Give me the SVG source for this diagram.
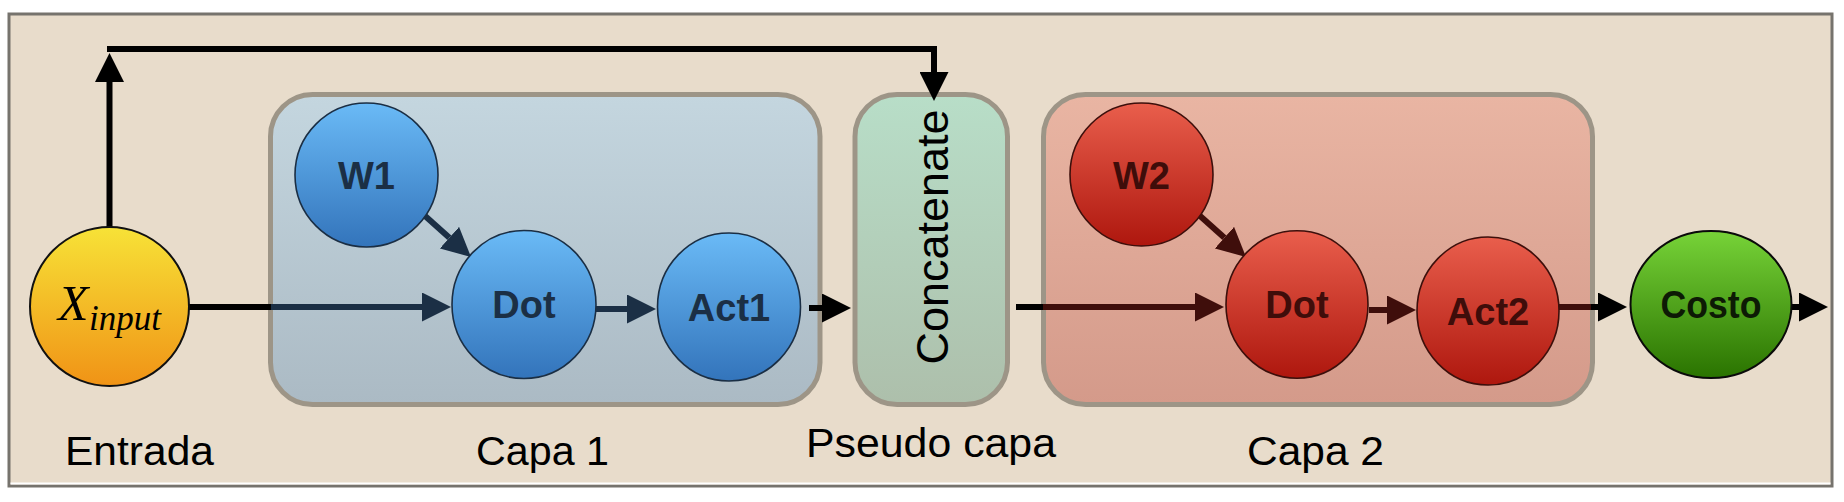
<svg xmlns="http://www.w3.org/2000/svg" width="1844" height="502" viewBox="0 0 1844 502">
<style>
.lbl{font-family:"Liberation Sans",Arial,sans-serif;font-size:41px;fill:#000}
.nt{font-family:"Liberation Sans",Arial,sans-serif;font-size:38px;font-weight:bold;text-anchor:middle}
.box{stroke:#9d9587;stroke-width:5}
.c{fill:none;stroke-width:6;stroke-linejoin:miter}
.k{stroke:#000}
.nv{stroke:#1b2f45}
.rd{stroke:#3f0e0b}
.bl{stroke:#1a2e44;stroke-width:1.6}
.rc{stroke:#3d0f0b;stroke-width:1.6}
</style>
<defs>
<linearGradient id="gY" x1="0" y1="0" x2="0" y2="1"><stop offset="0" stop-color="#f7e237"/><stop offset="1" stop-color="#f09316"/></linearGradient>
<linearGradient id="gB" x1="0" y1="0" x2="0" y2="1"><stop offset="0" stop-color="#6abaf6"/><stop offset="1" stop-color="#3374bb"/></linearGradient>
<linearGradient id="gR" x1="0" y1="0" x2="0" y2="1"><stop offset="0" stop-color="#e95e4c"/><stop offset="1" stop-color="#ae170e"/></linearGradient>
<linearGradient id="gG" x1="0" y1="0" x2="0" y2="1"><stop offset="0" stop-color="#77d338"/><stop offset="1" stop-color="#2a7300"/></linearGradient>
<linearGradient id="gL1" x1="0" y1="0" x2="0" y2="1"><stop offset="0" stop-color="#c4d6df"/><stop offset="1" stop-color="#abbac4"/></linearGradient>
<linearGradient id="gLC" x1="0" y1="0" x2="0" y2="1"><stop offset="0" stop-color="#b8dec8"/><stop offset="1" stop-color="#adbfab"/></linearGradient>
<linearGradient id="gL2" x1="0" y1="0" x2="0" y2="1"><stop offset="0" stop-color="#e9b5a3"/><stop offset="1" stop-color="#d49a8a"/></linearGradient>
<marker id="ak" viewBox="0 0 29 29" refX="0" refY="14.5" markerWidth="29" markerHeight="29" markerUnits="userSpaceOnUse" orient="auto"><path d="M0,0 L29,14.5 L0,29 z" fill="#000"/></marker>
<marker id="an" viewBox="0 0 29 29" refX="0" refY="14.5" markerWidth="29" markerHeight="29" markerUnits="userSpaceOnUse" orient="auto"><path d="M0,0 L29,14.5 L0,29 z" fill="#1b2f45"/></marker>
<marker id="ar" viewBox="0 0 29 29" refX="0" refY="14.5" markerWidth="29" markerHeight="29" markerUnits="userSpaceOnUse" orient="auto"><path d="M0,0 L29,14.5 L0,29 z" fill="#3f0e0b"/></marker>
</defs>
<rect x="0" y="0" width="1844" height="502" fill="#fff"/>
<rect x="9" y="14" width="1823" height="472" fill="#e8dccb" stroke="#76736d" stroke-width="3"/>
<line x1="10.5" y1="483.5" x2="1830.5" y2="483.5" stroke="#fff" stroke-width="2"/>

<g id="capa1">
<rect class="box" x="270.5" y="94.5" width="549.5" height="310" rx="42" fill="url(#gL1)"/>
<text class="lbl" x="476" y="465" textLength="133" lengthAdjust="spacingAndGlyphs">Capa 1</text>
</g>
<g id="pseudo">
<rect class="box" x="855" y="94.5" width="152.5" height="310" rx="42" fill="url(#gLC)"/>
<text font-family="Liberation Sans, Arial, sans-serif" font-size="45" text-anchor="middle" transform="translate(947.5,237) rotate(-90)">Concatenate</text>
<text class="lbl" x="806" y="457" textLength="250" lengthAdjust="spacingAndGlyphs">Pseudo capa</text>
</g>
<g id="capa2">
<rect class="box" x="1043.5" y="94.5" width="549" height="310" rx="42" fill="url(#gL2)"/>
<text class="lbl" x="1247" y="465" textLength="137" lengthAdjust="spacingAndGlyphs">Capa 2</text>
</g>

<g id="connectors">
<path class="c k" d="M109.5,227 V82" marker-end="url(#ak)"/>
<path class="c k" d="M107,49 H934 V72" marker-end="url(#ak)"/>
<path class="c k" d="M189,307 H271"/>
<path class="c nv" d="M271,307 H422" marker-end="url(#an)"/>
<path class="c nv" d="M424,215 L449.4,237.7" marker-end="url(#an)"/>
<path class="c nv" d="M596,309 H627" marker-end="url(#an)"/>
<path class="c k" d="M809,308 H822" marker-end="url(#ak)"/>
<path class="c k" d="M1016,307 H1043"/>
<path class="c rd" d="M1043,307 H1195" marker-end="url(#ar)"/>
<path class="c rd" d="M1199,215 L1224.4,237.7" marker-end="url(#ar)"/>
<path class="c rd" d="M1369,310 H1387" marker-end="url(#ar)"/>
<path class="c rd" d="M1559,307 H1591"/>
<path class="c k" d="M1591,307 H1598" marker-end="url(#ak)"/>
<path class="c k" d="M1791,307 H1799" marker-end="url(#ak)"/>
</g>

<g id="xinput">
<circle cx="109.5" cy="306.5" r="79.5" fill="url(#gY)" stroke="#111" stroke-width="2"/>
<text font-family="Liberation Serif, Times New Roman, serif" font-style="italic" fill="#000"><tspan x="58" y="320" font-size="50">X</tspan><tspan x="89" y="330" font-size="35">input</tspan></text>
</g>
<g id="entrada">
<text class="lbl" x="65" y="465" textLength="149" lengthAdjust="spacingAndGlyphs">Entrada</text>
</g>
<g id="w1">
<ellipse class="bl" cx="366.5" cy="175" rx="71.5" ry="72" fill="url(#gB)"/>
<text class="nt" x="366.5" y="189" fill="#1b2f45">W1</text>
</g>
<g id="dot1">
<ellipse class="bl" cx="524" cy="304.5" rx="72" ry="74" fill="url(#gB)"/>
<text class="nt" x="524" y="318" fill="#1b2f45">Dot</text>
</g>
<g id="act1">
<ellipse class="bl" cx="729" cy="307" rx="71.5" ry="74" fill="url(#gB)"/>
<text class="nt" x="729" y="321" fill="#1b2f45">Act1</text>
</g>
<g id="w2">
<ellipse class="rc" cx="1141.5" cy="174.5" rx="71.5" ry="71.5" fill="url(#gR)"/>
<text class="nt" x="1141.5" y="189" fill="#3f0d0a">W2</text>
</g>
<g id="dot2">
<ellipse class="rc" cx="1297" cy="304.5" rx="71" ry="73.7" fill="url(#gR)"/>
<text class="nt" x="1297" y="318" fill="#3f0d0a">Dot</text>
</g>
<g id="act2">
<ellipse class="rc" cx="1488" cy="311" rx="71" ry="74" fill="url(#gR)"/>
<text class="nt" x="1488" y="325" fill="#3f0d0a">Act2</text>
</g>
<g id="costo">
<ellipse cx="1711" cy="304.5" rx="80.5" ry="73.5" fill="url(#gG)" stroke="#0a0a0a" stroke-width="2"/>
<text class="nt" x="1711" y="318" fill="#0d1a05" textLength="101" lengthAdjust="spacingAndGlyphs">Costo</text>
</g>
</svg>
